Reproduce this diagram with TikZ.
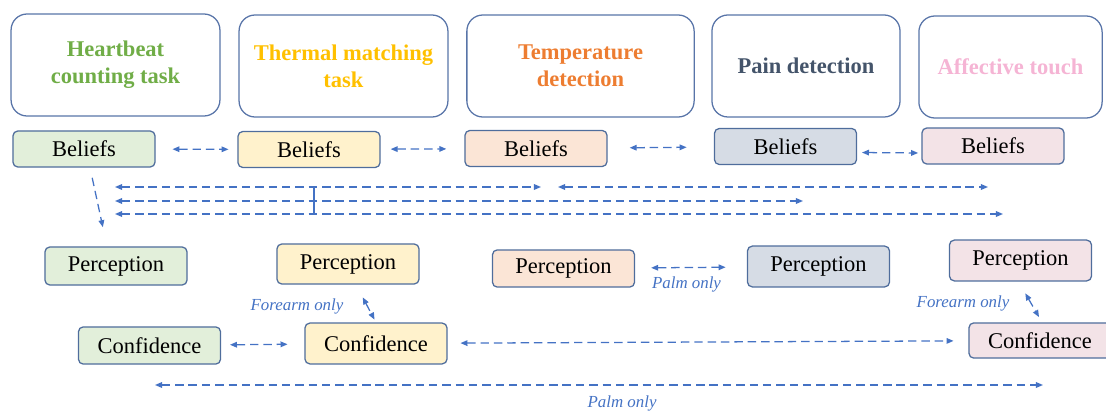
\documentclass[tikz,border=0pt]{standalone}
\usepackage{fontspec}
\setmainfont{Liberation Serif}
\usetikzlibrary{
  arrows.meta
}
\definecolor{linkblue}{HTML}{4472C4}
\definecolor{taskline}{HTML}{5874A8}
\definecolor{boxline}{HTML}{4F6D9C}
\definecolor{hbgreen}{HTML}{70AD47}
\definecolor{thgold}{HTML}{FFC000}
\definecolor{tporange}{HTML}{ED7D31}
\definecolor{pndark}{HTML}{44546A}
\definecolor{afpink}{HTML}{F5B4D4}
\definecolor{hbfill}{HTML}{E2EFDA}
\definecolor{thfill}{HTML}{FFF2CC}
\definecolor{tpfill}{HTML}{FBE5D6}
\definecolor{pnfill}{HTML}{D6DCE5}
\definecolor{affill}{HTML}{F3E3E7}

\begin{document}
\begin{tikzpicture}[
  x=0.025cm, y=-0.025cm,
  >={Triangle[length=5pt,width=4pt]},
  task/.style={draw=taskline, line width=0.9pt, rounded corners=0.4cm,
    minimum height=2.55cm, align=center,
    font=\fontsize{16}{19}\selectfont\bfseries},
  box/.style={draw=boxline, line width=0.9pt, rounded corners=0.12cm,
    minimum width=3.55cm, minimum height=0.9cm,
    font=\fontsize{16}{19}\selectfont},
  link/.style={linkblue, line width=0.9pt, dash pattern=on 6pt off 3.5pt},
  note/.style={linkblue, font=\fontsize{12}{14}\selectfont\itshape},
]
\useasboundingbox (0,0) rectangle (1106,412);

\node[task, minimum width=5.22cm, text=hbgreen] (hb) at (115.5,65) {Heartbeat\\counting task};
\node[task, minimum width=5.22cm, text=thgold] (th) at (343.5,66) {Thermal matching\\task};
\node[task, minimum width=5.68cm, text=tporange] (tp) at (580.5,66) {Temperature\\detection};
\node[task, minimum width=4.70cm, text=pndark] (pn) at (806,66) {Pain detection};
\node[task, minimum width=4.58cm, text=afpink] (af) at (1010.5,67) {Affective touch};

\node[box, fill=hbfill] (b1) at (84,149) {Beliefs};
\node[box, fill=thfill] (b2) at (309,149.5) {Beliefs};
\node[box, fill=tpfill] (b3) at (536,148.5) {Beliefs};
\node[box, fill=pnfill] (b4) at (785.5,146.5) {Beliefs};
\node[box, fill=affill] (b5) at (993,146) {Beliefs};

\node[box, fill=hbfill, minimum height=0.95cm] (p1) at (116,266) {Perception};
\node[box, fill=thfill, minimum height=1cm] (p2) at (348,264) {Perception};
\node[box, fill=tpfill, minimum height=0.93cm] (p3) at (563.5,268.5) {Perception};
\node[box, fill=pnfill, minimum height=1.02cm] (p4) at (818.5,266.5) {Perception};
\node[box, fill=affill, minimum height=1.02cm] (p5) at (1020.5,260.5) {Perception};

\node[box, fill=hbfill, minimum height=0.93cm] (c1) at (149.5,345.5) {Confidence};
\node[box, fill=thfill, minimum height=1.02cm] (c2) at (376,343.5) {Confidence};
\node[box, fill=affill, minimum height=0.88cm] (c5) at (1040,340.5) {Confidence};

\draw[link,<->, shorten <=0.42cm, shorten >=0.22cm] (b1) -- (b2);
\draw[link,<->, shorten <=0.25cm, shorten >=0.45cm] (b2) -- (b3);
\draw[link,<->, shorten <=0.55cm, shorten >=0.68cm] (b3) -- (b4);
\draw[link,<->, shorten <=0.12cm, shorten >=0.08cm] ([shift={(0,6)}]b4.east) -- ([shift={(0,7)}]b5.west);

\coordinate (l1) at (115,187);
\coordinate (l2) at (115,201);
\coordinate (l3) at (115,214);
\coordinate (j1) at (314,187);
\coordinate (j3) at (314,214);
\coordinate (r1) at (541,187);
\coordinate (r2) at (803,201);
\coordinate (r3) at (1003,214);
\coordinate (s1) at (558,187);
\coordinate (s2) at (988,187);
\draw[link,<->] (l1) -- (r1);
\draw[link,<->] (l2) -- (r2);
\draw[link,<->] (l3) -- (r3);
\draw[linkblue, line width=0.9pt] (j1) -- (j3);
\draw[link,<->] (s1) -- (s2);

\draw[link,->, shorten <=0.26cm, shorten >=0.49cm] ([shift={(6,0)}]b1.south) -- ([shift={(-9,0)}]p1.north);

\draw[link,<->, shorten <=0.4cm, shorten >=0.53cm] (p3) -- (p4)
  node[note, below=3pt, pos=0.46] {Palm only};

\draw[link,<->, shorten <=0.36cm, shorten >=0.08cm] ([shift={(8,0)}]p2.south) -- (c2.north);
\node[note] (fo1) at (297,306) {Forearm only};
\draw[link,<->, shorten <=0.34cm, shorten >=0.15cm] ([shift={(-2,0)}]p5.south) -- ([shift={(2,0)}]c5.north);
\node[note] (fo2) at (963,303) {Forearm only};

\draw[link,<->, shorten <=0.22cm, shorten >=0.42cm] (c1) -- (c2);
\draw[link,<->, shorten <=0.32cm, shorten >=0.37cm] (c2) -- (c5);

\coordinate (pl) at (155,385);
\coordinate (pr) at (1043,385);
\draw[link,<->] (pl) -- (pr)
  node[note, below=4pt, pos=0.526] {Palm only};
\end{tikzpicture}
\end{document}
